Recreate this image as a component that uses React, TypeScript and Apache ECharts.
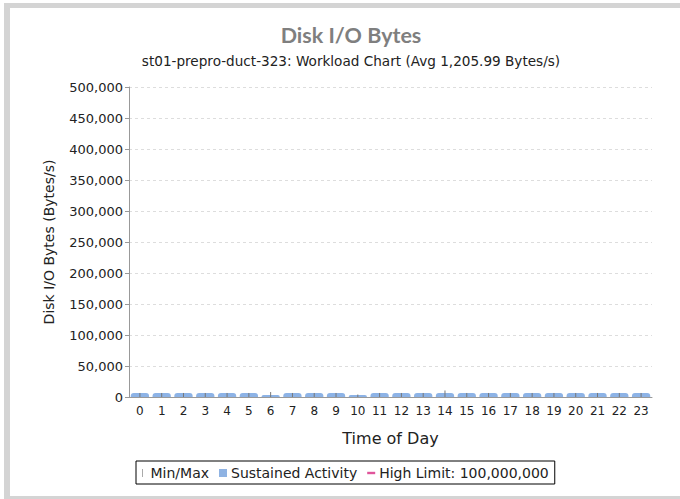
import React, { useEffect, useRef } from "react";
import * as echarts from "echarts";

const hours = ["0","1","2","3","4","5","6","7","8","9","10","11","12","13","14","15","16","17","18","19","20","21","22","23"];
const sustained = [6500,6500,6500,6500,6500,6500,3000,6500,6500,6500,2500,6500,6500,6500,6500,6500,6500,6500,6500,6500,6500,6500,6500,6500];
const minVals = [0,0,0,0,0,0,0,0,0,0,0,0,0,0,0,0,0,0,0,0,0,0,0,0];
const maxVals = [6500,6500,6500,6500,6500,6500,8000,6500,6500,6500,4000,6500,6500,6500,10500,6500,6500,6500,6500,6500,6500,6500,6500,6500];
const highLimit = 100000000;
const yTicks = [0, 50000, 100000, 150000, 200000, 250000, 300000, 350000, 400000, 450000, 500000];

export default function App() {
  const ref = useRef<HTMLDivElement>(null);
  useEffect(() => {
    const chart = echarts.init(ref.current!, null, { renderer: "svg" });
    const minMaxData = hours.map((_, i) => [i, minVals[i], maxVals[i]]);
    chart.setOption({
      animation: false,
      backgroundColor: "#ffffff",
      graphic: [
        { type: "rect", shape: { x: 4, y: 3, width: 676, height: 5 }, style: { fill: "#d4d4d4" }, silent: true },
        { type: "rect", shape: { x: 4, y: 3, width: 6, height: 496 }, style: { fill: "#d4d4d4" }, silent: true },
        { type: "rect", shape: { x: 4, y: 496, width: 676, height: 3 }, style: { fill: "#d4d4d4" }, silent: true },
      ],
      title: [
        {
          text: "Disk I/O Bytes",
          left: 346,
          top: 19,
          textAlign: "center",
          textStyle: { fontFamily: "Lato", fontSize: 21.5, fontWeight: "bold", color: "#7f7f7f" },
        },
        {
          text: "st01-prepro-duct-323: Workload Chart (Avg 1,205.99 Bytes/s)",
          left: 346,
          top: 49,
          textAlign: "center",
          textStyle: { fontFamily: "DejaVu Sans", fontSize: 13.6, fontWeight: "normal", color: "#222" },
        },
      ],
      grid: { left: 129, right: 28, top: 87, bottom: 102, containLabel: false },
      legend: {
        left: 136,
        top: 461,
        orient: "horizontal",
        borderColor: "#000",
        borderWidth: 1,
        borderRadius: 0,
        padding: [5, 6, 4, 6],
        itemGap: 10,
        itemWidth: 8,
        itemHeight: 8,
        textStyle: { fontFamily: "DejaVu Sans", fontSize: 14, color: "#222", padding: [0, 0, 0, -1] },
        data: [
          { name: "Min/Max", icon: "path://M0,0L1,0L1,8L0,8Z", itemStyle: { color: "#aaaaaa" } },
          { name: "Sustained Activity", icon: "rect", itemStyle: { color: "#8fb3e3" } },
          { name: "High Limit: 100,000,000", icon: "path://M0,0L10,0L10,3L0,3Z", itemStyle: { color: "#e0559b" } },
        ],
      },
      xAxis: {
        type: "category",
        data: hours,
        name: "Time of Day",
        nameLocation: "middle",
        nameGap: 33,
        nameTextStyle: { fontFamily: "DejaVu Sans", fontSize: 16, color: "#222" },
        axisLine: { lineStyle: { color: "#999", width: 1 } },
        axisTick: { show: false },
        axisLabel: { fontFamily: "DejaVu Sans", fontSize: 12, color: "#222", interval: 0, margin: 8 },
      },
      yAxis: {
        type: "value",
        min: 0,
        max: 500000,
        interval: 50000,
        name: "Disk I/O Bytes (Bytes/s)",
        nameLocation: "middle",
        nameGap: 73,
        nameTextStyle: { fontFamily: "DejaVu Sans", fontSize: 14, color: "#222" },
        axisLine: { show: true, lineStyle: { color: "#999", width: 1 } },
        axisTick: { show: true, length: 4, lineStyle: { color: "#999" } },
        axisLabel: {
          fontFamily: "DejaVu Sans",
          fontSize: 13,
          color: "#222",
          margin: 6,
          formatter: (v: number) => (yTicks.includes(v) ? v.toLocaleString("en-US") : ""),
        },
        splitLine: { show: true, lineStyle: { color: "#dddddd", type: [3, 3], width: 1 } },
      },
      series: [
        {
          name: "Min/Max",
          type: "custom",
          data: minMaxData,
          encode: { x: 0, y: [1, 2] },
          z: 3,
          renderItem: (params: any, api: any) => {
            const x = api.value(0);
            const p1 = api.coord([x, api.value(1)]);
            const p2 = api.coord([x, api.value(2)]);
            return {
              type: "line",
              shape: { x1: p1[0], y1: p1[1], x2: p2[0], y2: p2[1] },
              style: { stroke: "#777", lineWidth: 1 },
            };
          },
          itemStyle: { color: "#aaaaaa" },
        },
        {
          name: "Sustained Activity",
          type: "bar",
          data: sustained,
          barWidth: "84%",
          barMinHeight: 2,
          itemStyle: { color: "#8db3e6", borderRadius: [3, 3, 0, 0] },
          z: 2,
        },
        {
          name: "High Limit: 100,000,000",
          type: "line",
          data: hours.map(() => highLimit),
          symbol: "none",
          lineStyle: { color: "#e0559b", width: 2 },
          itemStyle: { color: "#e0559b" },
        },
      ],
    });
    return () => chart.dispose();
  }, []);
  return (
    <div
      ref={ref}
      style={{ position: "fixed", left: 0, top: 0, width: 680, height: 499 }}
    />
  );
}
